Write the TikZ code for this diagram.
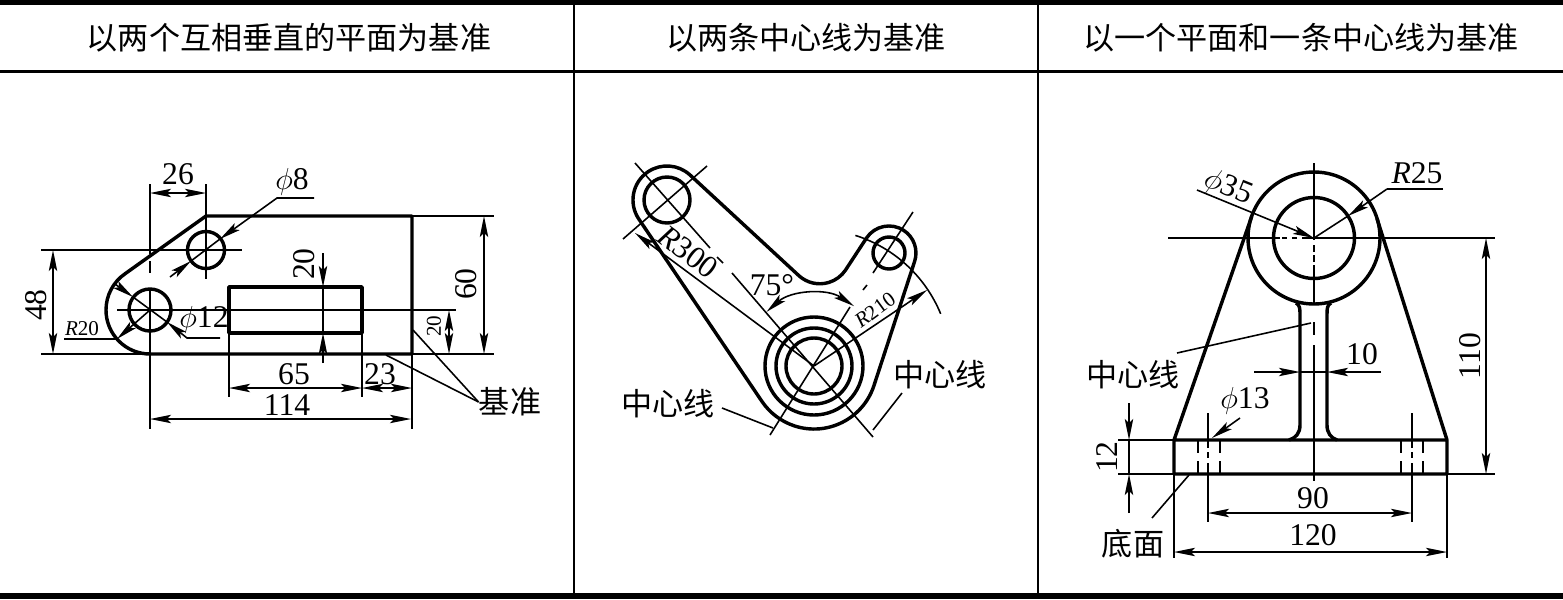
\documentclass[tikz,border=0pt]{standalone}
\usepackage{fontspec}
\setmainfont{Liberation Serif}
\newfontfamily\cjk{Noto Sans CJK SC}
\usetikzlibrary{arrows.meta}
\newcommand{\dimfont}{\fontsize{18}{18}\selectfont}
\newcommand{\smallfont}{\fontsize{12}{12}\selectfont}

\begin{document}
\begin{tikzpicture}[x=0.02cm, y=-0.02cm, >={Stealth[length=12pt, width=4.8pt, inset=2.5pt]},
                    outline/.style = {line width=1.95pt, line join=round},
                    thinline/.style = {line width=0.9pt},
                    rule/.style = {line width=1.15pt},
                    heavyrule/.style = {line width=3.1pt},
                    head/.style = {font=\cjk\fontsize{17.7}{18}\selectfont, inner sep=0pt},
                    zh/.style = {font=\cjk\fontsize{17.7}{18}\selectfont, inner sep=0pt},
                    num/.style = {font=\dimfont, inner sep=0pt},
                    small/.style = {font=\smallfont, inner sep=0pt}]
        \useasboundingbox (0,0) rectangle (1563,599);

        \draw[heavyrule] (0,2.5) -- (1563,2.5);
        \draw[rule] (0,71.5) -- (1563,71.5);
        \draw[heavyrule, line width=3.7pt] (0,596) -- (1563,596);
        \draw[rule] (574,3) -- (574,595);
        \draw[rule] (1038,3) -- (1038,595);
        \node[head] (head1) at (289,38) {以两个互相垂直的平面为基准};
        \node[head] (head2) at (806,38) {以两条中心线为基准};
        \node[head] (head3) at (1301,38) {以一个平面和一条中心线为基准};

        \coordinate (big) at (150,310);
        \coordinate (hole) at (206,250);
        \draw[outline] (206,216) -- (412,216) -- (412,354) -- (150,354)
            arc[start angle=90, end angle=235.6, radius=44] -- cycle;
        \draw[outline] (big) circle (21);
        \draw[outline] (hole) circle (18.5);
        \draw[outline] (229,287) rectangle (362,333);

        \draw[thinline] (150,184) -- (150,254);
        \draw[thinline] (150,261) -- (150,273);
        \draw[thinline] (150,288) -- (150,429);
        \draw[thinline] (206,184) -- (206,279);
        \draw[thinline] (117,310) -- (456,310);
        \draw[thinline] (41,250) -- (242,250);
        \draw[thinline] (41,354) -- (494,354);
        \draw[thinline] (412,216) -- (494,216);
        \draw[thinline] (229,333) -- (229,397);
        \draw[thinline] (362,333) -- (362,397);
        \draw[thinline] (412,354) -- (412,429);

        \draw[thinline, <->] (53,250) -- (53,354);
        \node[num, rotate=90] (d48) at (36,305) {48};
        \draw[thinline, <->] (150,193) -- (206,193);
        \node[num] (d26) at (178,174) {26};
        \draw[thinline, <->] (484,216) -- (484,354);
        \node[num, rotate=90] (d60) at (466,284) {60};
        \draw[thinline, <->] (449,310) -- (449,354);
        \node[small, rotate=90] (d20a) at (434,326) {20};
        \draw[thinline, ->] (323,253) -- (323,287);
        \draw[thinline] (323,287) -- (323,333);
        \draw[thinline, ->] (323,363) -- (323,333);
        \node[num, rotate=90] (d20b) at (304,264) {20};
        \draw[thinline, <->] (229,388) -- (362,388);
        \node[num] (d65) at (294,374) {65};
        \draw[thinline, <->] (362,388) -- (412,388);
        \node[num] (d23) at (380,374) {23};
        \draw[thinline, <->] (150,419) -- (411,419);
        \node[num] (d114) at (287,405) {114};

        \draw[thinline, ->] (314,198) -- (277,198) -- (220,239);
        \draw[thinline, ->] (170,277) -- (191,261);
        \draw[thinline] (220,239) -- (191,261);
        \node[num] (phi8) at (292,182) {$\phi$8};

        \draw[thinline, ->] (220,338) -- (187,338) -- (167,322);
        \draw[thinline, ->] (115,284) -- (133,297);
        \draw[thinline] (133,297) -- (167,322);
        \node[num] (phi12) at (204,320) {$\phi$12};

        \draw[thinline] (64,339) -- (117,339);
        \draw[thinline, ->] (big) -- (117,339);
        \node[small] (r20) at (82,329) {\textit{R}20};

        \node[zh] (base1) at (510,402) {基准};
        \draw[thinline] (base1.west) -- (386,355);
        \draw[thinline] (base1.west) -- (413,330);

        \coordinate (hub) at (814,366);
        \coordinate (bossa) at (667,200);
        \coordinate (bossb) at (889,253);
        \draw[outline] (638.8,219) arc[start angle=146, end angle=312.8, radius=34]
            -- (798.8,275.6) arc[start angle=132.6, end angle=34.2, radius=31]
            -- (866.5,238) arc[start angle=213.7, end angle=378.2, radius=27]
            -- (873.9,385.7) arc[start angle=18.2, end angle=146, radius=63] -- cycle;
        \draw[outline] (hub) circle (49);
        \draw[outline] (hub) circle (38);
        \draw[outline] (hub) circle (28);
        \draw[outline] (bossa) circle (23);
        \draw[outline] (bossb) circle (16);

        \draw[thinline] (635,163) -- (710,248);
        \draw[thinline] (717,257) -- (723,263);
        \draw[thinline] (732,273) -- (873,437);
        \draw[thinline] (623,239) -- (707,166);
        \draw[thinline] (770,435) -- (850,307);
        \draw[thinline] (863,290) -- (867,285);
        \draw[thinline] (873,273) -- (913,212);
        \draw[thinline] (hub) ++(-72.4:137) arc[start angle=-72.4, end angle=-22.4, radius=137];
        \draw[thinline, <->] (hub) ++(-131.3:72) arc[start angle=-131.3, end angle=-56.2, radius=72];
        \draw[thinline, ->] (hub) -- (635,233);
        \draw[thinline, ->] (hub) -- (927,290);
        \node[num, rotate=-37] (r300) at (688,252) {\textit{R}300};
        \node[small, rotate=36] (r210) at (875,310) {\textit{R}210};
        \node[num] (a75) at (772,285) {75°};

        \node[zh] (axis1) at (668,404) {中心线};
        \node[zh] (axis2) at (940,375) {中心线};
        \draw[thinline] (722,408) -- (773,428);
        \draw[thinline] (902,393) -- (873,430);

        \coordinate (eye) at (1314,238);
        \draw[outline] (eye) circle (66);
        \draw[outline] (eye) circle (40.5);
        \draw[outline] (1251.6,216.7) -- (1174,440) rectangle (1447,474);
        \draw[outline] (1447,440) -- (1376.9,218.2);
        \draw[outline] (1296,303) .. controls (1300,305) and (1300,309) .. (1300,315)
            -- (1300,425) .. controls (1300,433) and (1296,438) .. (1289,440);
        \draw[outline] (1331,303) .. controls (1327,305) and (1327,309) .. (1327,315)
            -- (1327,425) .. controls (1327,433) and (1331,438) .. (1337,440);

        \draw[thinline] (1314,163) -- (1314,240);
        \draw[thinline] (1314,245) -- (1314,252);
        \draw[thinline] (1314,255) -- (1314,262);
        \draw[thinline] (1314,265) -- (1314,305);
        \draw[thinline] (1314,322) -- (1314,335);
        \draw[thinline] (1314,345) -- (1314,481);
        \draw[thinline] (1168,238) -- (1280,238);
        \draw[thinline] (1282,238) -- (1287,238);
        \draw[thinline] (1292,238) -- (1297,238);
        \draw[thinline] (1302,238) -- (1495,238);
        \draw[thinline] (1447,474) -- (1495,474);
        \draw[thinline] (1118,440) -- (1174,440);
        \draw[thinline] (1118,474) -- (1174,474);
        \draw[thinline] (1174,474) -- (1174,558);
        \draw[thinline] (1447,474) -- (1447,558);
        \foreach \x in {1208, 1412} {
            \draw[thinline] (\x,413) -- (\x,448);
            \draw[thinline] (\x,452) -- (\x,458);
            \draw[thinline] (\x,463) -- (\x,522);
        }
        \foreach \x in {1198, 1220, 1401, 1423} {
            \draw[thinline] (\x,441) -- (\x,453);
            \draw[thinline] (\x,461) -- (\x,473);
        }

        \draw[thinline, <->] (1486,238) -- (1486,474);
        \node[num, rotate=90] (d110) at (1470,356) {110};
        \draw[thinline, ->] (1129,403) -- (1129,440);
        \draw[thinline] (1129,440) -- (1129,474);
        \draw[thinline, ->] (1129,513) -- (1129,474);
        \node[num, rotate=90] (d12) at (1107,457) {12};
        \draw[thinline, <->] (1208,513) -- (1412,513);
        \node[num] (d90) at (1313,498) {90};
        \draw[thinline, <->] (1174,552) -- (1447,552);
        \node[num] (d120) at (1313,535) {120};
        \draw[thinline, ->] (1254,372) -- (1300,372);
        \draw[thinline] (1300,372) -- (1327,372);
        \draw[thinline, ->] (1381,372) -- (1327,372);
        \node[num] (d10) at (1362,354) {10};

        \draw[thinline, ->] (1240,418) -- (1212,438);
        \node[num] (phi13) at (1245,401) {$\phi$13};
        \draw[thinline, ->] (1197,190) -- (eye);
        \node[num, rotate=-22] (phi35) at (1228,188) {$\phi$35};
        \draw[thinline] (1443,189) -- (1387,189);
        \draw[thinline, ->] (1387,189) -- (1348,216);
        \draw[thinline] (1348,216) -- (eye);
        \node[num] (r25) at (1417,173) {\textit{R}25};

        \node[zh] (axis3) at (1133,375) {中心线};
        \draw[thinline] (1177,353) -- (1311,323);
        \node[zh] (bottom) at (1133,544) {底面};
        \draw[thinline] (1152,518) -- (1189,475);
    \end{tikzpicture}
\end{document}
